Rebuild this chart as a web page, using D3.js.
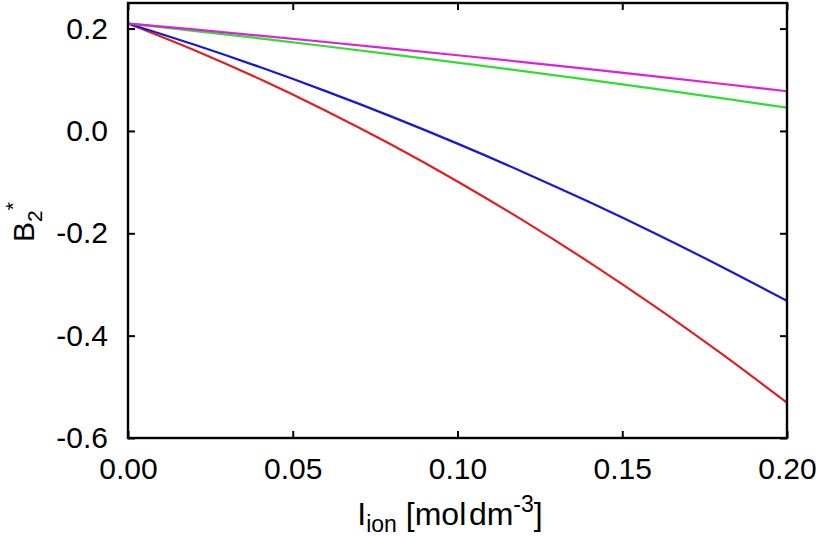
<!DOCTYPE html>
<html>
<head>
<meta charset="utf-8">
<script src="https://cdn.jsdelivr.net/npm/d3@7"></script>
<style>
  body { margin: 0; background: #fff; }
  text { font-family: "Liberation Sans", Arial, Helvetica, sans-serif; }
</style>
</head>
<body>
<svg class="Chart"></svg>
<script>
// ionic strength, mol dm^-3
var ionic = [0.00, 0.02, 0.04, 0.06, 0.08, 0.10, 0.12, 0.14, 0.16, 0.18, 0.20];

// B2* curves
var redVals     = [0.210, 0.1582, 0.1014, 0.0396, -0.0271, -0.0987, -0.1753, -0.2568, -0.3433, -0.4348, -0.531];
var blueVals    = [0.210, 0.1688, 0.1248, 0.0778, 0.0280, -0.0248, -0.0805, -0.1390, -0.2004, -0.2648, -0.332];
var greenVals   = [0.210, 0.1956, 0.1808, 0.1655, 0.1497, 0.1335, 0.1168, 0.0997, 0.0821, 0.0640, 0.0455];
var magentaVals = [0.210, 0.1983, 0.1862, 0.1738, 0.1610, 0.1479, 0.1345, 0.1208, 0.1067, 0.0922, 0.0775];

var seriesColors = ["#e02020", "#1818d0", "#30dd30", "#dd20dd"];

var xTicks = [0.00, 0.05, 0.10, 0.15, 0.20];
var yTicks = [-0.6, -0.4, -0.2, 0.0, 0.2];

function drawChart(){
    let width = 816, height = 536;
    let margin = {top: 3, right: 29, bottom: 98, left: 128};
    let w = width - margin.left - margin.right,
        h = height - margin.top - margin.bottom;

    let svg = d3.select(".Chart")
        .attr("width", width)
        .attr("height", height);

    let g = svg.append("g")
        .attr("transform", "translate(" + margin.left + "," + margin.top + ")");

    let x = d3.scaleLinear().domain([0, 0.2]).range([0, w]);
    let y = d3.scaleLinear().domain([-0.6, 0.25]).range([h, 0]);

    let series = [redVals, blueVals, greenVals, magentaVals];

    let line = d3.line()
        .x((d, i) => x(ionic[i]))
        .y(d => y(d))
        .curve(d3.curveMonotoneX);

    g.selectAll("path.curve")
        .data(series)
        .join("path")
        .attr("class", "curve")
        .attr("fill", "none")
        .attr("stroke", (d, i) => seriesColors[i])
        .attr("stroke-width", 2.2)
        .attr("d", line);

    // axes with ticks pointing inwards, mirrored on top and right
    // plain hyphen for negatives, like the original
    let fmtX = d => d3.format(".2f")(d).replace("\u2212", "-"),
        fmtY = d => d3.format(".1f")(d).replace("\u2212", "-");

    g.append("g")
        .attr("transform", "translate(0," + h + ")")
        .call(d3.axisBottom(x).tickValues(xTicks).tickSize(-7).tickPadding(20).tickFormat(fmtX));
    g.append("g")
        .call(d3.axisLeft(y).tickValues(yTicks).tickSize(-7).tickPadding(20).tickFormat(fmtY));
    g.append("g")
        .call(d3.axisTop(x).tickValues(xTicks).tickSize(-7).tickFormat(""));
    g.append("g")
        .attr("transform", "translate(" + w + ",0)")
        .call(d3.axisRight(y).tickValues(yTicks).tickSize(-7).tickFormat(""));

    g.selectAll(".domain").remove();
    g.selectAll(".tick line").attr("stroke", "#000").attr("stroke-width", 2);
    g.selectAll(".tick text")
        .attr("fill", "#000")
        .attr("font-size", 30)
        .attr("font-family", "'Liberation Sans', Arial, sans-serif");

    g.append("rect")
        .attr("width", w)
        .attr("height", h)
        .attr("fill", "none")
        .attr("stroke", "#000")
        .attr("stroke-width", 2.4);

    // x title: I_ion [mol dm^-3]
    let xt = svg.append("text")
        .attr("x", 450)
        .attr("y", 525)
        .attr("text-anchor", "middle")
        .attr("font-size", 32);
    xt.append("tspan").text("I");
    xt.append("tspan").attr("font-size", 23).attr("dy", 7).text("ion");
    xt.append("tspan").attr("dy", -7).text(" [mol\u200adm");
    xt.append("tspan").attr("font-size", 23).attr("dy", -13).text("-3");
    xt.append("tspan").attr("dy", 13).text("]");

    // y title: B_2^*
    let yt = svg.append("text")
        .attr("transform", "translate(34,222) rotate(-90)")
        .attr("text-anchor", "middle")
        .attr("font-size", 30);
    yt.append("tspan").text("B");
    yt.append("tspan").attr("font-size", 21).attr("dy", 8).text("2");
    yt.append("tspan").attr("font-size", 21).attr("dy", -22).text("*");
}

drawChart();
</script>
</body>
</html>
